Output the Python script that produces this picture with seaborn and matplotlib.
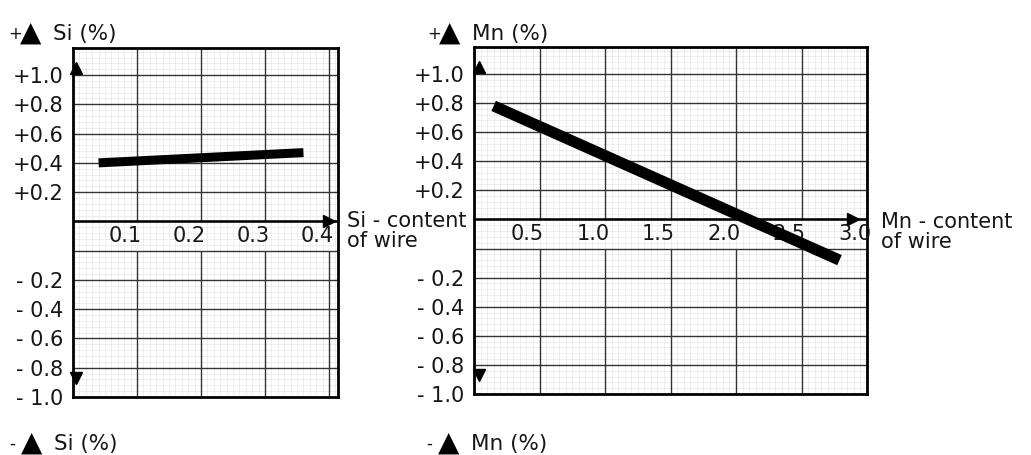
import numpy as np
import seaborn as sns
import matplotlib.pyplot as plt
import matplotlib.transforms as mtransforms
from matplotlib.ticker import MultipleLocator

# change of Si / Mn in the weld metal vs. content in the wire
si_wire = [0.04, 0.36]
si_change = [0.40, 0.47]
si_xticks = [0.1, 0.2, 0.3, 0.4]
si_xlabels = ["0.1", "0.2", "0.3", "0.4"]

mn_wire = [0.15, 2.79]
mn_change = [0.78, -0.08]
mn_xticks = [0.5, 1.0, 1.5, 2.0, 2.5, 3.0]
mn_xlabels = ["0.5", "1.0", "1.5", "2.0", "2.5", "3.0"]

y_values = [1.0, 0.8, 0.6, 0.4, 0.2, -0.2, -0.4, -0.6, -0.8, -1.0]
y_labels = ["+1.0", "+0.8", "+0.6", "+0.4", "+0.2",
            "- 0.2", "- 0.4", "- 0.6", "- 0.8", "- 1.0"]

GAP = 0.2      # blank strip between the two zero lines, holds the x tick labels
TOP = 1.385
W, H = 1031, 455


def lift(v):
    # positive half of the chart sits one grid cell higher
    v = np.asarray(v, dtype=float)
    return np.where(v >= 0, v + GAP, v)


sns.set_theme(style="white")
plt.rcParams['font.family'] = ['DejaVu Sans']
INK = '#161616'

fig = plt.figure(figsize=(W / 100, H / 100), dpi=100)


def panel(rect, wire, change, xticks, xlabels, xmax, minor_x, lw):
    ax = fig.add_axes(rect)
    ax.set_xlim(0, xmax)
    ax.set_ylim(-1.0, TOP)

    # graph paper
    ax.xaxis.set_minor_locator(MultipleLocator(minor_x))
    ax.yaxis.set_minor_locator(MultipleLocator(0.04))
    ax.grid(which='minor', color='#e6e6e6', lw=0.5)
    ax.set_axisbelow(True)
    ax.set_xticks([])
    ax.set_yticks(lift(y_values), y_labels)
    ax.tick_params(axis='y', which='both', length=0, labelsize=15, pad=7, labelcolor=INK)
    ax.tick_params(axis='x', which='both', length=0)

    # major grid, vertical lines skip the label strip
    for u in np.arange(-0.8, 1.21, 0.2):
        ax.axhline(u, color='#333333', lw=1.0, zorder=1)
    ax.vlines(xticks, -1.0, 0, color='#333333', lw=1.0, zorder=1)
    ax.vlines(xticks, GAP, TOP, color='#333333', lw=1.0, zorder=1)
    ax.axhline(GAP, color='black', lw=1.8, zorder=2)

    for s in ax.spines.values():
        s.set_linewidth(2.0)
        s.set_color('black')

    sns.lineplot(x=wire, y=lift(change), ax=ax, color='black', lw=lw,
                 solid_capstyle='butt', zorder=4)

    # x tick labels inside the strip
    off = mtransforms.ScaledTranslation(-12 / 100, 0, fig.dpi_scale_trans)
    for x, lab in zip(xticks, xlabels):
        ax.text(x, GAP / 2, lab, ha='center', va='center', fontsize=15,
                color=INK, transform=ax.transData + off, zorder=3)

    # axis arrows
    ax.plot([0.012], [1.25], marker='^', ms=8, color='black', clip_on=False,
            transform=ax.get_yaxis_transform(), zorder=5)
    ax.plot([0.012], [-0.87], marker='v', ms=8, color='black', clip_on=False,
            transform=ax.get_yaxis_transform(), zorder=5)
    ax.plot([0.965], [GAP], marker='>', ms=8, color='black', clip_on=False,
            transform=ax.get_yaxis_transform(), zorder=5)
    return ax


panel([73 / W, 1 - 397 / H, 265 / W, 349 / H], si_wire, si_change,
      si_xticks, si_xlabels, 0.414, 0.01, 6.5)
panel([474 / W, 1 - 394 / H, 393 / W, 347 / H], mn_wire, mn_change,
      mn_xticks, mn_xlabels, 3.0, 0.05, 8.0)


def head(x, y, sign, name):
    fig.text(x / W, 1 - (y - 1) / H, sign, fontsize=12, color=INK, va='baseline')
    fig.text((x + 12) / W, 1 - (y + 1) / H, "▲", fontsize=20, color='black', va='baseline')
    fig.text((x + 45) / W, 1 - y / H, name, fontsize=15.5, color=INK, va='baseline')


head(8, 40, "+", "Si (%)")
head(9, 450, "-", "Si (%)")
head(427, 40, "+", "Mn (%)")
head(426, 450, "-", "Mn (%)")

fig.text(347 / W, 1 - 231 / H, "Si - content\nof wire", fontsize=15, color=INK,
         va='center', ha='left', linespacing=1.05)
fig.text(881 / W, 1 - 232 / H, "Mn - content\nof wire", fontsize=15, color=INK,
         va='center', ha='left', linespacing=1.05)

fig.savefig('out.png', dpi=100)
